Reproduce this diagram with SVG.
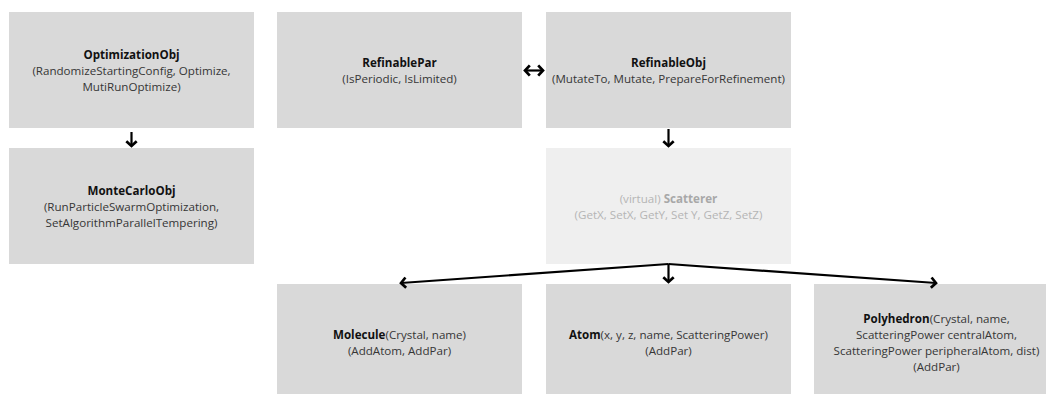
<svg xmlns="http://www.w3.org/2000/svg" width="1046" height="394" viewBox="0 0 1046 394">
  <style>
    .box { fill: #d9d9d9; }
    .box-light { fill: #efefef; }
    text { font-family: "Open Sans", "Liberation Sans", sans-serif; font-size: 11.6px; fill: #363636; text-anchor: middle; }
    .b { font-weight: bold; fill: #111; }
    .faint { fill: #b5b5b5; }
    .fb { fill: #a8a8a8; font-weight: bold; }
    .conn { stroke: #000; stroke-width: 2.2; fill: none; }
  </style>
  <defs>
    <marker id="arrow" markerUnits="userSpaceOnUse" markerWidth="14" markerHeight="14" viewBox="-7 -7 14 14" refX="0" refY="0" orient="auto-start-reverse">
      <path d="M-4.8,-5.2 L0,0 L-4.8,5.2" stroke="#000" stroke-width="2.7" fill="none" stroke-linejoin="miter"/>
    </marker>
  </defs>

  <rect width="1046" height="394" fill="#ffffff"/>

  <g id="node-optimizationobj">
    <rect class="box" x="9" y="12" width="245" height="116"/>
    <text x="131.5" y="59"><tspan class="b">OptimizationObj</tspan></text>
    <text x="131.5" y="75">(RandomizeStartingConfig, Optimize,</text>
    <text x="131.5" y="91">MutiRunOptimize)</text>
  </g>

  <g id="node-montecarloobj">
    <rect class="box" x="9" y="148" width="245" height="116"/>
    <text x="131.5" y="195"><tspan class="b">MonteCarloObj</tspan></text>
    <text x="131.5" y="211">(RunParticleSwarmOptimization,</text>
    <text x="131.5" y="227">SetAlgorithmParallelTempering)</text>
  </g>

  <g id="node-refinablepar">
    <rect class="box" x="277" y="12" width="245" height="116"/>
    <text x="399.5" y="67"><tspan class="b">RefinablePar</tspan></text>
    <text x="399.5" y="83">(IsPeriodic, IsLimited)</text>
  </g>

  <g id="node-refinableobj">
    <rect class="box" x="546" y="12" width="245" height="116"/>
    <text x="668.5" y="67"><tspan class="b">RefinableObj</tspan></text>
    <text x="668.5" y="83">(MutateTo, Mutate, PrepareForRefinement)</text>
  </g>

  <g id="node-scatterer">
    <rect class="box-light" x="546" y="148" width="245" height="116"/>
    <text class="faint" x="668.5" y="203">(virtual) <tspan class="fb">Scatterer</tspan></text>
    <text class="faint" x="668.5" y="219">(GetX, SetX, GetY, Set Y, GetZ, SetZ)</text>
  </g>

  <g id="node-molecule">
    <rect class="box" x="277" y="284" width="245" height="116"/>
    <text x="399.5" y="339"><tspan class="b">Molecule</tspan>(Crystal, name)</text>
    <text x="399.5" y="355">(AddAtom, AddPar)</text>
  </g>

  <g id="node-atom">
    <rect class="box" x="546" y="284" width="245" height="116"/>
    <text x="668.5" y="339"><tspan class="b">Atom</tspan>(x, y, z, name, ScatteringPower)</text>
    <text x="668.5" y="355">(AddPar)</text>
  </g>

  <g id="node-polyhedron">
    <rect class="box" x="814" y="284" width="245" height="116"/>
    <text x="936.5" y="323"><tspan class="b">Polyhedron</tspan>(Crystal, name,</text>
    <text x="936.5" y="339">ScatteringPower centralAtom,</text>
    <text x="936.5" y="355">ScatteringPower peripheralAtom, dist)</text>
    <text x="936.5" y="371">(AddPar)</text>
  </g>

  <g id="connectors">
    <line class="conn" x1="131.5" y1="132" x2="131.5" y2="146" marker-end="url(#arrow)"/>
    <line class="conn" x1="525" y1="70.5" x2="543" y2="70.5" marker-start="url(#arrow)" marker-end="url(#arrow)"/>
    <line class="conn" x1="668.5" y1="129" x2="668.5" y2="146" marker-end="url(#arrow)"/>
    <line class="conn" x1="668.5" y1="264" x2="668.5" y2="282" marker-end="url(#arrow)"/>
    <line class="conn" x1="668.5" y1="264" x2="401" y2="283" marker-end="url(#arrow)"/>
    <line class="conn" x1="668.5" y1="264" x2="936" y2="283" marker-end="url(#arrow)"/>
  </g>
</svg>
